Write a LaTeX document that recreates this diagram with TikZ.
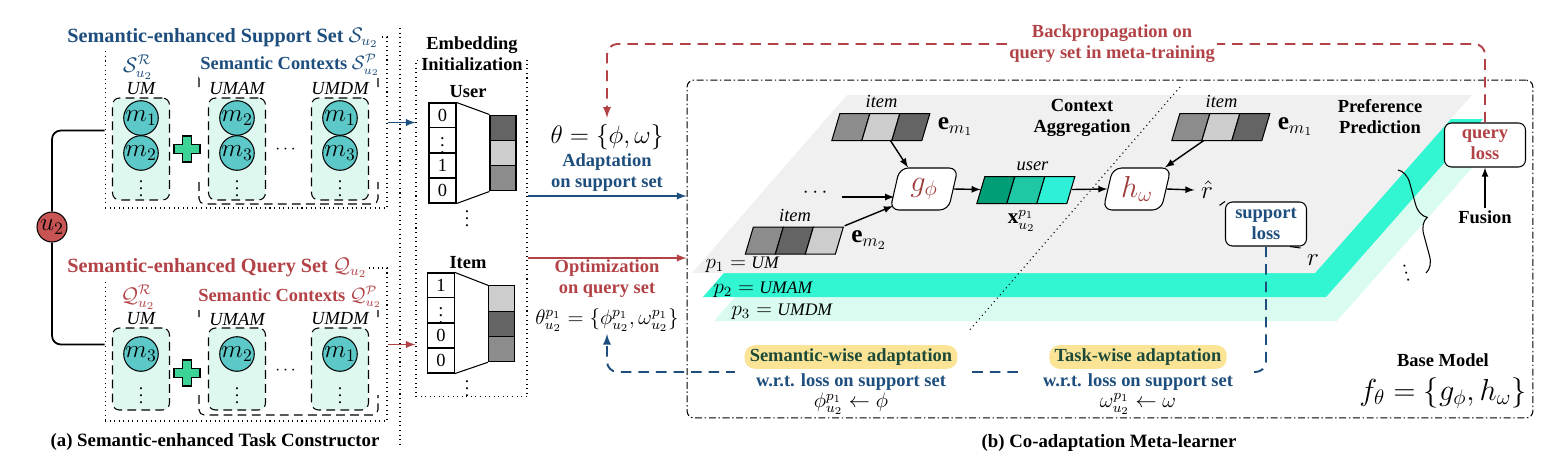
\documentclass[tikz,border=0pt]{standalone}
\usepackage{amsmath,amssymb}
\usepackage{fontspec}
\setmainfont{Liberation Serif}
\usetikzlibrary{arrows,positioning,calc,shapes.geometric,decorations.pathreplacing}

\definecolor{setblue}{RGB}{30,78,125}
\definecolor{setred}{RGB}{178,66,70}
\definecolor{nodered}{RGB}{200,84,84}
\definecolor{itemteal}{RGB}{92,200,200}
\definecolor{boxmint}{RGB}{222,248,240}
\definecolor{plusgreen}{RGB}{60,212,150}
\definecolor{grayd}{RGB}{100,100,100}
\definecolor{graym}{RGB}{140,140,140}
\definecolor{grayl}{RGB}{205,205,205}
\definecolor{tealA}{RGB}{0,158,118}
\definecolor{tealB}{RGB}{30,200,165}
\definecolor{tealC}{RGB}{45,240,215}
\definecolor{planeA}{RGB}{240,240,240}
\definecolor{planeB}{RGB}{50,245,210}
\definecolor{planeC}{RGB}{218,252,240}
\definecolor{hlyellow}{RGB}{251,228,150}
\definecolor{hlgreen}{RGB}{28,74,58}
\definecolor{fnred}{RGB}{160,60,60}

\newcommand{\lblfont}{\fontsize{10.5}{12}\selectfont}
\newcommand{\ttlfont}{\fontsize{11.5}{13}\selectfont}

% three slanted cells of an embedding
\newcommand{\embvec}[5]{%
  \node[vec box] (#1) at (#2) {};
  \begin{scope}[shift={(#1.south west)},semithick]
    \filldraw[fill=#3] (0,0) -- (8,-27) -- (38,-27) -- (30,0) -- cycle;
    \filldraw[fill=#4] (30,0) -- (38,-27) -- (68,-27) -- (60,0) -- cycle;
    \filldraw[fill=#5] (60,0) -- (68,-27) -- (98,-27) -- (90,0) -- cycle;
  \end{scope}}

\tikzset{plus sign/.pic={
  \filldraw[fill=plusgreen,line width=0.8pt] (-4.5,-13) -- (4.5,-13) -- (4.5,-4.5) -- (13,-4.5) -- (13,4.5) -- (4.5,4.5) -- (4.5,13) -- (-4.5,13) -- (-4.5,4.5) -- (-13,4.5) -- (-13,-4.5) -- (-4.5,-4.5) -- cycle;}}

\begin{document}
\begin{tikzpicture}[x=0.02cm,y=-0.02cm,>=latex,thick,
  lbl/.style={font=\lblfont\bfseries,inner sep=1pt},
  ttl/.style={font=\ttlfont\bfseries,inner sep=1pt},
  col lab/.style={font=\lblfont\itshape,inner sep=1pt},
  dot box/.style={draw,dotted,semithick,inner sep=0pt},
  col box/.style={draw,semithick,dash pattern=on 5pt off 3pt,fill=boxmint,rounded corners=4pt,minimum width=1.14cm,inner sep=0pt},
  item node/.style={circle,draw,semithick,fill=itemteal,minimum size=0.56cm,inner sep=0pt,font=\Large},
  user node/.style={circle,draw,semithick,fill=nodered,minimum size=0.6cm,inner sep=0pt,font=\Large},
  onehot cell/.style={draw,semithick,fill=white,minimum width=0.54cm,minimum height=0.5cm,inner sep=0pt,font=\lblfont},
  emb cell/.style={draw,semithick,minimum width=0.52cm,minimum height=0.506cm,inner sep=0pt},
  vec box/.style={rectangle,minimum width=1.96cm,minimum height=0.54cm,inner sep=0pt},
  func box/.style={trapezium,trapezium left angle=76,trapezium right angle=104,trapezium stretches=true,draw,semithick,fill=white,rounded corners=5pt,minimum width=1.36cm,minimum height=0.84cm,inner sep=0pt,text=fnred,font=\fontsize{18}{20}\selectfont},
  loss box/.style={draw,semithick,fill=white,rounded corners=4pt,minimum width=1.62cm,minimum height=0.88cm,align=center,inner sep=1pt,font=\lblfont\bfseries},
  hl box/.style={fill=hlyellow,rounded corners=6pt,inner xsep=3pt,inner ysep=2pt,text=hlgreen,font=\lblfont\bfseries},
  wrt box/.style={fill=white,inner xsep=12pt,inner ysep=3pt,text=setblue,font=\lblfont\bfseries},
  base box/.style={draw,semithick,dash pattern=on 4pt off 1.5pt on 0.8pt off 1.5pt,rounded corners=4pt,inner sep=0pt,minimum width=16.92cm,minimum height=6.76cm},
  arr/.style={->,line width=0.8pt},
  blue arrow/.style={->,line width=0.9pt,setblue},
  red arrow/.style={->,line width=0.9pt,setred},
  red dash/.style={line width=1.1pt,setred,dash pattern=on 6pt off 4pt,rounded corners=6pt},
  blue dash/.style={line width=1.1pt,setblue,dash pattern=on 6pt off 4pt,rounded corners=6pt}]
\useasboundingbox (0,0) rectangle (1560,463);

% (a) support set
\node[dot box,minimum width=5.64cm,minimum height=3.42cm] (sbox) at (246,122.5) {};
\node[ttl,text=setblue,fill=white,anchor=west] (stitle) at (65,38) {Semantic-enhanced Support Set $\mathcal{S}_{u_2}$};
\node[text=setblue,font=\large] (sR) at (138,67) {$\mathcal{S}^{\mathcal{R}}_{u_2}$};
\draw[semithick,rounded corners=3pt] (199,87) -- (199,72) -- (378,72) -- (378,87);
\draw[semithick,dash pattern=on 5pt off 3pt,rounded corners=3pt] (199,182) -- (199,204) -- (378,204) -- (378,182);
\node[lbl,text=setblue,fill=white] (sP) at (290,65) {Semantic Contexts $\mathcal{S}^{\mathcal{P}}_{u_2}$};
\foreach \x/\lab/\ma/\mb [count=\k] in {141/UM/1/2,237/UMAM/2/3,340/UMDM/1/3}{
  \node[col box,minimum height=2.04cm] (scol\k) at (\x,149) {};
  \node[col lab] at (\x,89) {\lab};
  \node[item node] (sm\k-1) at (\x,118) {$m_{\ma}$};
  \node[item node] (sm\k-2) at (\x,153) {$m_{\mb}$};
  \node at (\x,183) {$\vdots$};
}
\pic at (187,149) {plus sign};
\node at (287,150) {$\cdots$};

% (a) query set
\node[dot box,minimum width=5.64cm,minimum height=3.06cm] (qbox) at (246,344.5) {};
\node[ttl,text=setred,fill=white,anchor=west] (qtitle) at (65,268) {Semantic-enhanced Query Set $\mathcal{Q}_{u_2}$};
\node[text=setred,font=\large] (qR) at (138,297) {$\mathcal{Q}^{\mathcal{R}}_{u_2}$};
\draw[semithick,rounded corners=3pt] (199,317) -- (199,302) -- (378,302) -- (378,317);
\draw[semithick,dash pattern=on 5pt off 3pt,rounded corners=3pt] (199,395) -- (199,415) -- (378,415) -- (378,395);
\node[lbl,text=setred,fill=white] (qP) at (290,297) {Semantic Contexts $\mathcal{Q}^{\mathcal{P}}_{u_2}$};
\foreach \x/\lab/\ma [count=\k] in {141/UM/3,237/UMAM/2,340/UMDM/1}{
  \node[col box,minimum height=1.64cm] (qcol\k) at (\x,369) {};
  \node[col lab] at (\x,319) {\lab};
  \node[item node] (qm\k) at (\x,354) {$m_{\ma}$};
  \node at (\x,390) {$\vdots$};
}
\pic at (187,373) {plus sign};
\node at (287,371) {$\cdots$};

\node[user node] (u2) at (52,227) {$u_2$};
\draw[line width=1pt,rounded corners=5pt] (u2.north) |- ($(sbox.west)+(0,8)$);
\draw[line width=1pt,rounded corners=5pt] (u2.south) |- (qbox.west);
\node[lbl,font=\fontsize{10.7}{12}\selectfont\bfseries] (capa) at (215,442) {(a) Semantic-enhanced Task Constructor};
\draw[dotted,semithick] (400,28) -- (400,447);

% embedding initialization
\node[dot box,minimum width=2.22cm,minimum height=6.74cm] (ebox) at (471.5,228.5) {};
\node[lbl,fill=white,align=center] (etitle) at (472,54) {Embedding\\Initialization};
\node[lbl] (ulab) at (468,92) {User};
\foreach \val [count=\k] in {0,$\vdots$,1,0}
  \node[onehot cell] (uo\k) at (442.5,90.5+25*\k) {\val};
\foreach \pc [count=\k] in {grayd,grayl,graym}
  \node[emb cell,fill=\pc] (ue\k) at (503,102.4+25.3*\k) {};
\draw[semithick] (uo1.north east) -- (ue1.north west);
\draw[semithick] (uo4.south east) -- (ue3.south west);
\node at (467,213) {$\vdots$};
\node[lbl] (ilab) at (468,263) {Item};
\foreach \val [count=\k] in {1,$\vdots$,0,0}
  \node[onehot cell] (io\k) at (441,260.5+25*\k) {\val};
\foreach \pc [count=\k] in {grayl,grayd,graym}
  \node[emb cell,fill=\pc] (ie\k) at (501.5,273.2+25.3*\k) {};
\draw[semithick] (io1.north east) -- (ie1.north west);
\draw[semithick] (io4.south east) -- (ie3.south west);
\node at (467,383) {$\vdots$};
\draw[blue arrow] (sbox.east) -- (sbox.east -| ebox.west);
\draw[red arrow] (qbox.east) -- (qbox.east -| ebox.west);

% (b) base model planes
\foreach \pc/\dx/\dy in {planeC/22/48,planeB/11/24,planeA/0/0}
  \fill[\pc,shift={(\dx,\dy)}] (692,273) -- (847,95) -- (1472,95) -- (1315,273) -- cycle;
\node[base box] (bbox) at (1110,249) {};
\node[anchor=west,font=\large] (pone) at (699,265) {$p_1 =$ {\normalsize\itshape UM}};
\node[anchor=west,font=\large] (ptwo) at (707,290) {$p_2 =$ {\normalsize\itshape UMAM}};
\node[anchor=west,font=\large] (pthree) at (725,312) {$p_3 =$ {\normalsize\itshape UMDM}};
\draw[dotted,semithick] (1180,87) -- (968,332);
\node[lbl,align=center] (ctxag) at (1082,118) {Context\\Aggregation};
\node[lbl,align=center] (prefp) at (1380,117) {Preference\\Prediction};

% context aggregation
\embvec{ione}{881.5,126.5}{graym}{grayl}{grayd}
\node[col lab,above=1pt of ione] {item};
\node[font=\Large,right=0pt of ione] {$\mathbf{e}_{m_1}$};
\embvec{itwo}{795,240}{graym}{grayd}{grayl}
\node[col lab,above=1pt of itwo] {item};
\node[font=\Large,right=0pt of itwo] {$\mathbf{e}_{m_2}$};
\node[func box] (gbox) at (924,189) {$g_\phi$};
\node[font=\large] (gdots) at (817,193) {$\cdots$};
\coordinate (gin) at (842,197);
\draw[arr] (gin) -- (gin -| gbox.west);
\draw[arr] ($(ione.south)+(9,0)$) -- ($(gbox.north)+(-16,0)$);
\draw[arr] (itwo.north east) -- ($(gbox.center)+(-31,17)$);
\embvec{uvec}{1026.5,189.5}{tealA}{tealB}{tealC}
\node[col lab,above=1pt of uvec,xshift=0.12cm] {user};
\node[font=\large,below=0pt of uvec,xshift=-0.1cm] (xlab) {$\mathbf{x}^{p_1}_{u_2}$};
\draw[arr] (gbox.east) -- ($(uvec.west)+(4,0)$);

% preference prediction
\node[func box] (hbox) at (1137,189) {$h_\omega$};
\draw[arr] ($(uvec.east)+(-4,0)$) -- (hbox.west);
\embvec{ithree}{1221.5,126.5}{graym}{grayl}{grayd}
\node[col lab,above=1pt of ithree] {item};
\node[font=\Large,right=0pt of ithree] {$\mathbf{e}_{m_1}$};
\draw[arr] ($(ithree.south)+(-18,0)$) -- ($(hbox.north)+(28,0)$);
\node[font=\Large] (rhat) at (1207,190) {$\hat{r}$};
\draw[arr] (hbox.east) -- (rhat.west);
\node[loss box,text=setblue] (sl) at (1266,224) {support\\loss};
\node[font=\Large] (rr) at (1313,260) {$r$};
\draw[semithick] (rhat.south east) -- (sl.north west);
\draw[semithick] ($(sl.south east)+(-17,0)$) -- (rr.north west);
\draw[semithick,decorate,decoration={brace,amplitude=9pt}] (1398,170) -- (1426,273);
\node[rotate=15] (pdots) at (1405,268) {$\vdots$};
\node[loss box,text=setred] (ql) at (1485,145) {query\\loss};
\node[lbl] (fus) at (1485,217) {Fusion};
\draw[arr] (fus.north) -- (ql.south);
\node[lbl] (bm) at (1443,360) {Base Model};
\node[font=\LARGE] (fth) at (1443,393) {$f_\theta = \{g_\phi, h_\omega\}$};

% meta-learner flows
\node[font=\Large] (th) at (607,137) {$\theta = \{\phi,\omega\}$};
\node[lbl,align=center,text=setblue] (adapt) at (607,172.5) {Adaptation\\on support set};
\coordinate (ay) at (0,196);
\draw[blue arrow] (ebox.east |- ay) -- (bbox.west |- ay);
\coordinate (oy) at (0,258);
\draw[red arrow] (ebox.east |- oy) -- (bbox.west |- oy);
\node[lbl,align=center,text=setred] (opt) at (607,279) {Optimization\\on query set};
\node[font=\large,inner sep=1pt] (thq) at (607,320) {$\theta^{p_1}_{u_2} = \{\phi^{p_1}_{u_2},\omega^{p_1}_{u_2}\}$};
\node[lbl,align=center,text=setred] (bp) at (1112,44) {Backpropagation on\\query set in meta-training};
\draw[red dash] (ql.north) |- (bp.east);
\draw[red dash,->] (bp.west) -| (th.north);
\coordinate (by) at (0,372);
\draw[blue dash,->] (sl.south) |- (thq.south |- by) -- (thq.south);
\node[wrt box] (swr) at (851,382) {w.r.t. loss on support set};
\node[font=\large,inner sep=1pt] (swm) at (851,404) {$\phi^{p_1}_{u_2} \leftarrow \phi$};
\node[hl box] (swa) at (851,357) {Semantic-wise adaptation};
\node[wrt box] (twr) at (1138,382) {w.r.t. loss on support set};
\node[font=\large,inner sep=1pt] (twm) at (1138,404) {$\omega^{p_1}_{u_2} \leftarrow \omega$};
\node[hl box] (twa) at (1138,357) {Task-wise adaptation};
\node[lbl,font=\fontsize{10.7}{12}\selectfont\bfseries] (capb) at (1109,443) {(b) Co-adaptation Meta-learner};
\end{tikzpicture}
\end{document}
